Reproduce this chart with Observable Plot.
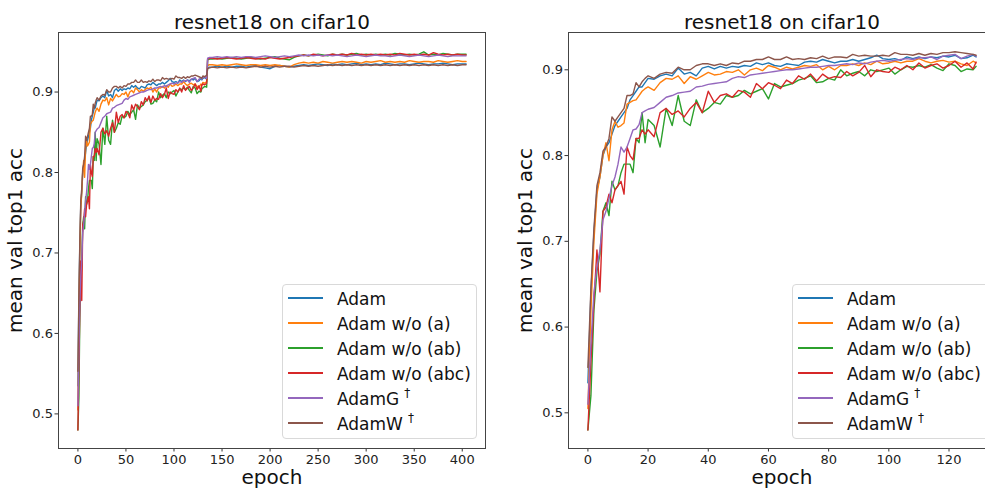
<!DOCTYPE html>
<html><head><meta charset="utf-8">
<script src="https://cdn.jsdelivr.net/npm/d3@7"></script>
<script src="https://cdn.jsdelivr.net/npm/@observablehq/plot@0.6"></script>
<style>
html,body{margin:0;padding:0;background:#fff;}
#wrap{position:relative;width:985px;height:488px;overflow:hidden;font-family:"DejaVu Sans",sans-serif;}
.panel{position:absolute;top:0;height:488px;}
.panel svg{max-width:none !important;display:block;}
.legend{position:absolute;top:284px;height:155px;border:1px solid #d9d9d9;border-radius:4px;background:rgba(255,255,255,0.85);box-sizing:border-box;}
.row{position:absolute;left:54px;font-size:17px;line-height:20px;color:#111;white-space:nowrap;}
.dag{font-size:12px;position:relative;top:-8px;margin-left:5px;vertical-align:baseline;font-family:"DejaVu Sans",sans-serif;}
.swatch{position:absolute;left:5px;width:35px;height:1.5px;}
</style></head>
<body>
<div id="wrap">
  <div id="left" class="panel" style="left:0px;width:490px"></div>
  <div id="right" class="panel" style="left:490px;width:510px"></div>
  <div id="legL" class="legend" style="left:282px;width:195px"></div>
  <div id="legR" class="legend" style="left:792px;width:200px"></div>
</div>
<script>
const names = ["Adam","Adam w/o (a)","Adam w/o (ab)","Adam w/o (abc)","AdamG","AdamW"];
const daggers = [false,false,false,false,true,true];
const colors = ["#1f77b4","#ff7f0e","#2ca02c","#d62728","#9467bd","#8c564b"];
const title = "resnet18 on cifar10";
const xLabel = "epoch";
const yLabel = "mean val top1 acc";
const xTicksLeft = [0,50,100,150,200,250,300,350,400];
const xTicksRight = [0,20,40,60,80,100,120];
const yTicks = [0.5,0.6,0.7,0.8,0.9];

// epochs 0..129 (shown in both panels)
const earlyEpochs = [
  0,1,2,3,4,5,6,7,8,9,
  10,11,12,13,14,15,16,17,18,19,
  20,22,24,26,28,30,32,34,36,38,
  40,42,44,46,48,50,52,54,56,58,
  60,62,64,66,68,70,72,74,76,78,
  80,82,84,86,88,90,92,94,96,98,
  100,102,104,106,108,110,112,114,116,118,
  120,122,124,126,128,129];
// epochs 130..404 (left panel only)
const lateEpochs = [
  130,132,134,135,137,
  140,145,150,155,160,165,170,175,180,185,
  190,195,200,205,210,215,220,225,230,235,
  240,245,250,255,260,265,270,275,280,285,
  290,295,300,305,310,315,320,325,330,335,
  340,345,350,355,360,365,370,375,380,385,
  390,395,400,
  404];

const adamEarly = [
  0.535,0.640,0.710,0.760,0.775,0.800,0.810,0.815,0.825,0.835,
  0.840,0.845,0.850,0.855,0.865,0.870,0.875,0.880,0.880,0.885,
  0.890,0.889,0.893,0.895,0.893,0.902,0.895,0.897,0.893,0.902,
  0.904,0.901,0.904,0.902,0.904,0.903,0.905,0.904,0.908,0.906,
  0.908,0.905,0.904,0.907,0.906,0.905,0.909,0.910,0.909,0.912,
  0.910,0.908,0.910,0.910,0.912,0.910,0.912,0.914,0.917,0.913,
  0.912,0.913,0.911,0.915,0.913,0.915,0.913,0.915,0.914,0.916,
  0.915,0.917,0.913,0.914,0.917,0.915];
const adamWoAEarly = [
  0.505,0.620,0.700,0.755,0.775,0.800,0.815,0.794,0.830,0.840,
  0.833,0.835,0.838,0.860,0.862,0.864,0.865,0.870,0.875,0.878,
  0.880,0.876,0.885,0.890,0.889,0.893,0.884,0.892,0.889,0.893,
  0.897,0.894,0.895,0.898,0.897,0.900,0.894,0.900,0.902,0.899,
  0.905,0.903,0.900,0.903,0.901,0.903,0.905,0.904,0.906,0.900,
  0.904,0.900,0.905,0.905,0.907,0.905,0.908,0.906,0.910,0.907,
  0.908,0.910,0.908,0.910,0.910,0.913,0.910,0.908,0.910,0.911,
  0.909,0.910,0.907,0.905,0.910,0.908];
const adamWoABEarly = [
  0.480,0.520,0.620,0.665,0.685,0.735,0.745,0.730,0.770,0.760,
  0.765,0.780,0.790,0.790,0.790,0.780,0.820,0.815,0.850,0.815,
  0.842,0.835,0.810,0.855,0.835,0.870,0.840,0.835,0.865,0.850,
  0.855,0.862,0.860,0.870,0.868,0.870,0.876,0.872,0.875,0.878,
  0.866,0.884,0.880,0.882,0.884,0.888,0.890,0.893,0.885,0.886,
  0.890,0.888,0.900,0.893,0.896,0.898,0.893,0.900,0.898,0.900,
  0.902,0.895,0.900,0.904,0.903,0.905,0.903,0.906,0.902,0.899,
  0.907,0.905,0.898,0.901,0.900,0.904];
const adamWoABCEarly = [
  0.480,0.560,0.630,0.690,0.641,0.735,0.740,0.755,0.745,0.760,
  0.765,0.770,0.755,0.810,0.800,0.795,0.820,0.820,0.830,0.825,
  0.830,0.822,0.850,0.855,0.848,0.852,0.845,0.855,0.862,0.850,
  0.875,0.862,0.870,0.872,0.868,0.876,0.874,0.868,0.884,0.878,
  0.885,0.882,0.878,0.888,0.884,0.893,0.889,0.895,0.887,0.895,
  0.890,0.892,0.891,0.898,0.893,0.897,0.905,0.892,0.900,0.898,
  0.897,0.903,0.900,0.905,0.900,0.908,0.902,0.905,0.907,0.902,
  0.905,0.910,0.903,0.908,0.901,0.909];
const adamGEarly = [
  0.510,0.580,0.640,0.670,0.690,0.725,0.735,0.750,0.765,0.775,
  0.790,0.810,0.804,0.810,0.820,0.830,0.831,0.836,0.850,0.852,
  0.854,0.856,0.862,0.868,0.870,0.873,0.874,0.875,0.880,0.881,
  0.883,0.884,0.885,0.886,0.890,0.892,0.891,0.894,0.895,0.896,
  0.897,0.898,0.899,0.900,0.900,0.901,0.902,0.903,0.903,0.904,
  0.905,0.905,0.906,0.907,0.906,0.908,0.907,0.909,0.910,0.911,
  0.910,0.911,0.912,0.913,0.912,0.914,0.914,0.915,0.912,0.916,
  0.917,0.918,0.913,0.916,0.918,0.916];
const adamWEarly = [
  0.553,0.645,0.715,0.765,0.780,0.805,0.810,0.820,0.845,0.840,
  0.845,0.850,0.855,0.870,0.870,0.872,0.885,0.880,0.886,0.890,
  0.893,0.890,0.895,0.897,0.896,0.903,0.900,0.900,0.905,0.907,
  0.907,0.905,0.907,0.905,0.908,0.907,0.910,0.910,0.912,0.912,
  0.915,0.912,0.912,0.915,0.912,0.913,0.912,0.914,0.913,0.916,
  0.913,0.915,0.915,0.914,0.918,0.916,0.917,0.916,0.916,0.917,
  0.916,0.920,0.918,0.918,0.917,0.919,0.917,0.919,0.918,0.920,
  0.920,0.921,0.920,0.919,0.918,0.917];

const adamLate = [
  0.917,0.918,0.916,0.930,0.931,
  0.931,0.932,0.931,0.932,0.931,0.932,0.932,0.931,0.932,0.933,
  0.931,0.930,0.929,0.932,0.933,0.932,0.931,0.932,0.933,0.934,
  0.933,0.934,0.935,0.934,0.933,0.935,0.934,0.935,0.934,0.935,
  0.936,0.934,0.935,0.934,0.935,0.934,0.936,0.935,0.934,0.935,
  0.935,0.934,0.935,0.936,0.935,0.934,0.935,0.935,0.936,0.935,
  0.934,0.935,0.935,
  0.935];
const adamWoALate = [
  0.912,0.911,0.913,0.933,0.934,
  0.934,0.933,0.934,0.933,0.934,0.935,0.934,0.933,0.934,0.934,
  0.933,0.934,0.933,0.934,0.933,0.932,0.931,0.934,0.936,0.937,
  0.936,0.937,0.936,0.938,0.937,0.936,0.937,0.938,0.937,0.938,
  0.937,0.936,0.938,0.937,0.938,0.939,0.937,0.938,0.937,0.938,
  0.937,0.939,0.938,0.937,0.938,0.938,0.937,0.939,0.938,0.937,
  0.938,0.939,0.938,
  0.938];
const adamWoABLate = [
  0.905,0.907,0.906,0.940,0.941,
  0.941,0.942,0.941,0.942,0.943,0.942,0.941,0.942,0.943,0.942,
  0.941,0.942,0.943,0.944,0.942,0.941,0.940,0.943,0.945,0.946,
  0.945,0.946,0.947,0.946,0.945,0.947,0.946,0.947,0.946,0.947,
  0.948,0.946,0.947,0.946,0.947,0.946,0.947,0.946,0.948,0.947,
  0.946,0.947,0.946,0.947,0.950,0.946,0.947,0.946,0.948,0.947,
  0.946,0.947,0.947,
  0.947];
const adamWoABCLate = [
  0.910,0.909,0.911,0.941,0.942,
  0.942,0.941,0.942,0.943,0.942,0.941,0.942,0.943,0.942,0.941,
  0.942,0.941,0.943,0.942,0.941,0.942,0.943,0.944,0.945,0.946,
  0.945,0.947,0.946,0.945,0.946,0.947,0.946,0.947,0.946,0.948,
  0.946,0.947,0.946,0.947,0.946,0.947,0.946,0.947,0.946,0.948,
  0.947,0.946,0.947,0.946,0.947,0.946,0.949,0.947,0.946,0.947,
  0.946,0.947,0.946,
  0.946];
const adamGLate = [
  0.918,0.919,0.917,0.942,0.943,
  0.943,0.944,0.943,0.944,0.943,0.944,0.943,0.944,0.944,0.943,
  0.944,0.945,0.944,0.943,0.944,0.945,0.944,0.945,0.946,0.945,
  0.946,0.945,0.946,0.945,0.946,0.945,0.946,0.945,0.944,0.945,
  0.946,0.945,0.944,0.945,0.946,0.945,0.945,0.944,0.945,0.946,
  0.945,0.944,0.945,0.946,0.945,0.944,0.945,0.946,0.945,0.944,
  0.945,0.945,0.945,
  0.945];
const adamWLate = [
  0.920,0.919,0.921,0.929,0.930,
  0.931,0.930,0.931,0.930,0.931,0.930,0.931,0.930,0.931,0.932,
  0.931,0.932,0.931,0.932,0.931,0.932,0.932,0.931,0.932,0.933,
  0.932,0.933,0.932,0.933,0.934,0.933,0.934,0.933,0.934,0.933,
  0.934,0.933,0.934,0.933,0.934,0.933,0.934,0.933,0.934,0.933,
  0.934,0.933,0.934,0.933,0.934,0.933,0.934,0.933,0.934,0.933,
  0.934,0.933,0.934,
  0.934];

const earlySeries = [adamEarly, adamWoAEarly, adamWoABEarly, adamWoABCEarly, adamGEarly, adamWEarly];
const lateSeries = [adamLate, adamWoALate, adamWoABLate, adamWoABCLate, adamGLate, adamWLate];

const rowsRight = [], rowsLeft = [];
names.forEach((name, i) => {
  const e = earlySeries[i], l = lateSeries[i];
  for (let j = 0; j < Math.min(e.length, earlyEpochs.length); j++) {
    const r = {series: name, epoch: earlyEpochs[j], acc: e[j]};
    rowsRight.push(r); rowsLeft.push(r);
  }
  for (let j = 0; j < Math.min(l.length, lateEpochs.length); j++) {
    rowsLeft.push({series: name, epoch: lateEpochs[j], acc: l[j]});
  }
});

function panel({data, width, marginLeft, marginRight, xDomain, yDomain, xTicks}) {
  return Plot.plot({
    width, height: 488, marginLeft, marginRight, marginTop: 32, marginBottom: 40,
    style: {fontFamily: "DejaVu Sans, sans-serif", fontSize: "13px", color: "#222", background: "transparent", overflow: "visible"},
    x: {domain: xDomain, label: null},
    y: {domain: yDomain, label: null},
    color: {domain: names, range: colors},
    marks: [
      Plot.axisX({ticks: xTicks, tickSize: 3.5, tickPadding: 3, tickFormat: d => String(d), label: null, fontSize: 13, stroke: "#333"}),
      Plot.axisY({ticks: yTicks, tickSize: 3.5, tickPadding: 2, tickFormat: d3.format(".1f"), label: null, fontSize: 13, stroke: "#333"}),
      Plot.line(data, {x: "epoch", y: "acc", z: "series", stroke: "series", strokeWidth: 1.4}),
      Plot.frame({stroke: "#444", strokeWidth: 1}),
      Plot.text([title], {text: d => d, frameAnchor: "top", textAnchor: "middle", dy: -4, lineAnchor: "bottom", fontSize: 20, fill: "#111"}),
      Plot.text([xLabel], {text: d => d, frameAnchor: "bottom", textAnchor: "middle", dy: 29, lineAnchor: "middle", fontSize: 20, fill: "#111"}),
      Plot.text([yLabel], {text: d => d, frameAnchor: "left", textAnchor: "middle", dx: -43, rotate: -90, lineAnchor: "middle", fontSize: 20, fill: "#111"})
    ]
  });
}

document.getElementById("left").append(panel({
  data: rowsLeft, width: 490, marginLeft: 58, marginRight: 5,
  xDomain: [-20.2, 424.2], yDomain: [0.457, 0.974], xTicks: xTicksLeft
}));
document.getElementById("right").append(panel({
  data: rowsRight, width: 510, marginLeft: 78, marginRight: 5,
  xDomain: [-6.45, 135.45], yDomain: [0.4584, 0.9435], xTicks: xTicksRight
}));

function legend(el) {
  names.forEach((name, i) => {
    const sw = document.createElement("div");
    sw.className = "swatch";
    sw.style.top = (12 + 25 * i) + "px";
    sw.style.backgroundColor = colors[i];
    el.append(sw);
    const t = document.createElement("div");
    t.className = "row";
    t.style.top = (4 + 25 * i) + "px";
    t.textContent = name;
    if (daggers[i]) { const s = document.createElement("span"); s.className = "dag"; s.textContent = "†"; t.append(s); }
    el.append(t);
  });
}
legend(document.getElementById("legL"));
legend(document.getElementById("legR"));
</script>
</body></html>
